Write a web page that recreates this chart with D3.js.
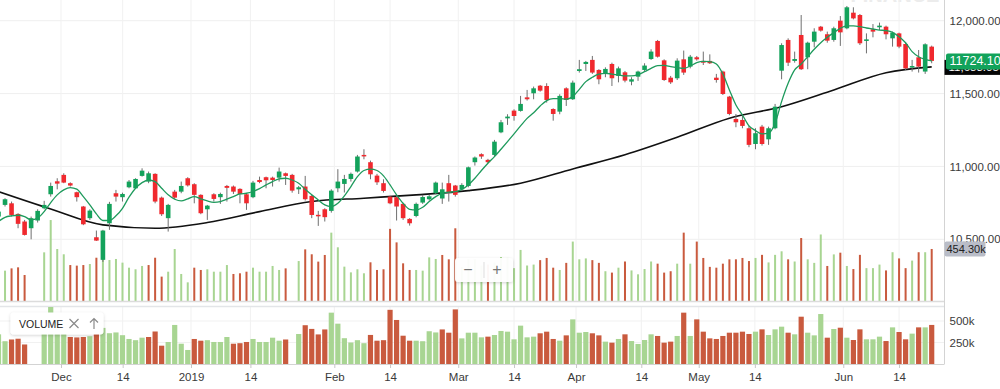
<!DOCTYPE html>
<html><head><meta charset="utf-8">
<script src="https://cdn.jsdelivr.net/npm/d3@7/dist/d3.min.js"></script>
<style>
html,body{margin:0;padding:0;background:#fff;}
svg{display:block;font-family:"Liberation Sans",Arial,Helvetica,sans-serif;}
</style></head>
<body><svg id="c" width="1000" height="389"></svg>
<script>
// ---- data ----
const open = [10656,10736,10747,10674,10622,10576,10629,10713,10809,10898,10942,10885,10823,10725,10645,10514,10359,10610,10816,10789,10857,10850,10935,10896,10949,10786,10645,10827,10827,10919,10878,10805,10706,10809,10789,10866,10862,10846,10809,10789,10907,10926,10923,10923,10953,10942,10843,10862,10798,10668,10706,10695,10850,10880,10914,10965,11079,11029,10937,10885,10793,10789,10743,10640,10660,10752,10775,10816,10780,10885,10869,10843,10866,11029,11084,11045,11079,11234,11330,11383,11381,11474,11502,11554,11552,11394,11376,11536,11461,11655,11703,11731,11662,11635,11703,11621,11646,11582,11616,11662,11737,11861,11728,11609,11605,11735,11685,11749,11724,11724,11609,11651,11479,11326,11319,11262,11154,11273,11186,11262,11657,11868,11724,11902,11749,11856,11959,11907,11868,12000,11948,12055,12039,11861,11941,11955,11959,11879,11913,11840,11678,11749,11651,11822];
const high = [10702,10782,10759,10679,10633,10656,10706,10764,10889,10919,10953,10891,10827,10729,10706,10560,10565,10757,10839,10820,10907,10919,10987,10965,10953,10793,10743,10839,10896,10926,10885,10809,10736,10816,10820,10873,10869,10850,10816,10901,10930,10930,10930,10992,10958,10949,10866,10935,10805,10695,10713,10843,10981,10942,10958,11079,11118,11040,10949,10912,10798,10798,10747,10645,10752,10805,10805,10896,10889,10942,10873,10885,10999,11068,11090,11052,11182,11319,11358,11392,11484,11525,11548,11559,11571,11399,11495,11543,11589,11731,11724,11758,11667,11680,11712,11685,11655,11612,11657,11708,11804,11868,11735,11621,11742,11795,11765,11758,11788,11769,11635,11657,11484,11360,11353,11278,11262,11285,11273,11429,11845,11879,11788,12039,11856,11948,11964,11925,11959,12032,12101,12092,12046,11913,11977,11987,11966,11925,11918,11849,11731,11799,11845,11829];
const low = [10645,10725,10656,10576,10526,10500,10615,10706,10793,10843,10885,10862,10759,10597,10633,10489,10345,10565,10759,10759,10850,10846,10930,10885,10747,10660,10553,10775,10816,10862,10747,10672,10633,10759,10743,10759,10811,10747,10702,10782,10885,10850,10862,10896,10873,10820,10811,10766,10645,10592,10622,10683,10823,10821,10896,10958,11049,10912,10873,10821,10741,10629,10633,10594,10651,10743,10766,10809,10743,10759,10793,10834,10857,11006,11052,11022,11068,11228,11285,11314,11376,11452,11461,11513,11438,11314,11358,11415,11456,11644,11655,11635,11564,11612,11552,11577,11577,11557,11587,11655,11731,11747,11587,11566,11593,11628,11673,11726,11696,11703,11575,11490,11351,11269,11262,11132,11118,11143,11148,11255,11598,11689,11712,11662,11667,11817,11925,11849,11856,11827,11941,12009,11833,11776,11886,11936,11872,11822,11811,11662,11651,11644,11635,11708];
const close = [10690,10775,10667,10606,10530,10645,10695,10736,10866,10882,10889,10869,10789,10603,10697,10491,10560,10743,10793,10811,10896,10914,10971,10953,10759,10672,10736,10786,10866,10870,10805,10679,10731,10777,10811,10853,10827,10811,10747,10889,10893,10905,10907,10965,10935,10834,10857,10775,10667,10658,10652,10834,10896,10914,10949,11068,11070,10946,10891,10832,10747,10725,10645,10610,10743,10790,10795,10889,10843,10820,10805,10873,10994,11061,11068,11029,11170,11303,11342,11346,11429,11461,11536,11520,11456,11360,11484,11456,11575,11667,11717,11644,11598,11669,11605,11673,11589,11598,11651,11692,11788,11753,11593,11577,11726,11644,11753,11735,11712,11708,11593,11497,11360,11303,11278,11148,11228,11154,11262,11410,11833,11712,11737,11667,11849,11925,11932,11863,11948,11920,12092,12016,11845,11872,11925,11966,11907,11918,11822,11673,11689,11685,11838,11724.10];
// volume in thousands (null = no bar)
const volume = [345,265,285,294,227,null,null,425,707,454,408,314,309,314,323,378,420,358,367,335,291,277,306,314,378,213,256,454,236,163,291,271,277,256,256,314,236,242,256,291,256,256,306,271,285,null,349,451,408,344,402,597,469,300,250,277,242,338,271,277,630,512,329,271,271,265,381,367,402,364,635,298,364,364,310,318,337,384,376,287,446,310,318,357,376,291,271,333,519,364,372,357,333,260,248,291,345,267,233,279,345,326,248,260,326,597,326,519,376,298,291,326,364,364,376,349,376,403,337,403,434,364,345,550,364,333,581,306,407,422,306,279,403,287,287,318,267,426,372,287,353,426,426,454.3];
// short moving average, read at every candle
const maShort = [10622,10651,10661,10665,10656,10633,10645,10690,10752,10805,10839,10855,10844,10793,10736,10674,10629,10629,10661,10713,10789,10850,10889,10907,10896,10850,10805,10775,10763,10777,10793,10777,10763,10754,10759,10775,10793,10811,10816,10828,10848,10873,10896,10914,10919,10907,10885,10843,10805,10770,10736,10725,10747,10798,10862,10930,10972,10981,10972,10935,10873,10805,10747,10706,10702,10720,10759,10793,10816,10823,10827,10843,10873,10919,10972,11022,11067,11118,11170,11223,11278,11330,11369,11415,11452,11465,11465,11461,11479,11529,11582,11612,11634,11639,11634,11628,11621,11621,11630,11650,11673,11692,11694,11685,11678,11673,11689,11712,11721,11719,11703,11634,11525,11422,11353,11278,11246,11223,11228,11296,11445,11570,11662,11703,11753,11804,11849,11886,11918,11948,11964,11964,11959,11950,11943,11936,11932,11920,11890,11849,11788,11753,11735,11724];
// long moving average, read every 8 candles
const maLongIdx = [0,8,16,24,32,40,48,56,64,72,80,88,96,104,112,120,128,136,143];
const maLong = [10827,10708,10599,10576,10615,10690,10759,10782,10805,10834,10885,10983,11080,11200,11331,11410,11525,11643,11683];
const priceTicks = [10500,11000,11500,12000];
const volTicks = [250,500];
const timeTickLabels = ["Dec","14","2019","14","Feb","14","Mar","14","Apr","14","May","14","Jun","14"];
const timeTickAt = [9.58,19.03,29.5,38.6,51.46,60.0,70.45,79.0,88.5,98.5,107.3,115.9,129.45,138.0];
const lastPriceLabel = "11724.10";
const maLabel = "11,683.05";
const volLabel = "454.30k";
const watermark = "FINANCE";

// ---- drawing ----
const W = 1000, H = 389, axisX = 944.5;
const mainTop = 0, mainBottom = 301, lowTop = 307, lowBottom = 364;
const N = close.length;
const svg = d3.select("#c");
const x = d3.scaleLinear().domain([0, N-1]).range([-1.5, 931.7]);
const y = d3.scaleLinear().domain([10500, 12000]).range([239.3, 20.7]);
const vMain = d3.scaleLinear().domain([0, 1000]).range([mainBottom, mainBottom - 114.5]);
const vLow = d3.scaleLinear().domain([0, 1000]).range([lowBottom, lowBottom - 86]);

const GREEN = "#13a25b", RED = "#f0292e", WICK = "#6f6f6f";
const VGREEN = "#a8d592", VRED = "#c95a3e";
const volColor = i => (i === 0 ? close[0] >= open[0] : close[i] >= close[i-1]) ? VGREEN : VRED;

const defs = svg.append("defs");
defs.append("clipPath").attr("id","clipMain").append("rect").attr("x",0).attr("y",mainTop).attr("width",axisX).attr("height",mainBottom-mainTop);
defs.append("clipPath").attr("id","clipLow").append("rect").attr("x",0).attr("y",lowTop).attr("width",axisX).attr("height",lowBottom-lowTop);
const sh = defs.append("filter").attr("id","shadow").attr("x","-20%").attr("y","-40%").attr("width","140%").attr("height","180%");
sh.append("feDropShadow").attr("dx",0).attr("dy",1).attr("stdDeviation",1.5).attr("flood-color","#000").attr("flood-opacity",0.18);

svg.append("rect").attr("width",W).attr("height",H).attr("fill","#fff");

// watermark (mostly cut off at the top, as in the reference)
svg.append("text").attr("x",895).attr("y",2).attr("text-anchor","middle")
  .attr("font-size",20).attr("font-weight","bold").attr("fill","#ececec").text(watermark);

// grid
const grid = svg.append("g");
grid.selectAll(".hg").data(priceTicks).join("line")
  .attr("x1",0).attr("x2",axisX).attr("y1",d=>y(d)).attr("y2",d=>y(d))
  .attr("stroke","#efefef").attr("stroke-width",1);
grid.selectAll(".vg").data(timeTickAt).join("line")
  .attr("x1",d=>x(d)).attr("x2",d=>x(d)).attr("y1",0).attr("y2",mainBottom)
  .attr("stroke","#f1f1f1").attr("stroke-width",1);
grid.selectAll(".vg2").data(timeTickAt).join("line")
  .attr("x1",d=>x(d)).attr("x2",d=>x(d)).attr("y1",lowTop).attr("y2",lowBottom)
  .attr("stroke","#f1f1f1").attr("stroke-width",1);
grid.selectAll(".lg").data(volTicks).join("line")
  .attr("x1",0).attr("x2",axisX).attr("y1",d=>vLow(d)).attr("y2",d=>vLow(d))
  .attr("stroke","#f1f1f1").attr("stroke-width",1);

const idx = d3.range(N);
// volume overlay in main pane
const gm = svg.append("g").attr("clip-path","url(#clipMain)");
gm.selectAll(".vb").data(idx.filter(i=>volume[i]!=null)).join("rect")
  .attr("x",i=>x(i)-1).attr("width",2)
  .attr("y",i=>vMain(volume[i])).attr("height",i=>vMain(0)-vMain(volume[i]))
  .attr("fill",volColor);

// moving averages
gm.append("path").datum(maLong.map((v,k)=>[maLongIdx[k],v]))
  .attr("d", d3.line().x(d=>x(d[0])).y(d=>y(d[1])).curve(d3.curveMonotoneX))
  .attr("fill","none").attr("stroke","#111").attr("stroke-width",1.6);

// candles
const cg = gm.selectAll(".cd").data(idx).join("g");
cg.append("line").attr("x1",i=>x(i)).attr("x2",i=>x(i))
  .attr("y1",i=>y(high[i])).attr("y2",i=>y(low[i]))
  .attr("stroke",WICK).attr("stroke-width",1);
cg.append("rect").attr("x",i=>x(i)-2.3).attr("width",4.6)
  .attr("y",i=>y(Math.max(open[i],close[i])))
  .attr("height",i=>Math.max(1.5, Math.abs(y(open[i])-y(close[i]))))
  .attr("fill",i=>close[i]>=open[i]?GREEN:RED);

gm.append("path").datum(maShort)
  .attr("d", d3.line().x((d,i)=>x(i)).y(d=>y(d)).curve(d3.curveMonotoneX))
  .attr("fill","none").attr("stroke","#1e9a5c").attr("stroke-width",1.3);

// pane separators
svg.append("line").attr("x1",0).attr("x2",axisX).attr("y1",mainBottom+0.5).attr("y2",mainBottom+0.5)
  .attr("stroke","#dcdcdc").attr("stroke-width",1.5);
svg.append("line").attr("x1",0).attr("x2",axisX).attr("y1",lowTop-0.5).attr("y2",lowTop-0.5)
  .attr("stroke","#e3e5e8").attr("stroke-width",1.5);

// lower volume pane
const gl = svg.append("g").attr("clip-path","url(#clipLow)");
gl.selectAll(".lb").data(idx.filter(i=>volume[i]!=null)).join("rect")
  .attr("x",i=>x(i)-2.6).attr("width",5.2)
  .attr("y",i=>vLow(volume[i])).attr("height",i=>vLow(0)-vLow(volume[i]))
  .attr("fill",volColor);

// right axes
svg.append("line").attr("x1",axisX).attr("x2",axisX).attr("y1",0).attr("y2",lowBottom)
  .attr("stroke","#d3d3d3").attr("stroke-width",1);
const pa = svg.append("g").attr("transform",`translate(${axisX},0)`)
  .call(d3.axisRight(y).tickValues(priceTicks).tickFormat(d3.format(",.2f")).tickSize(0).tickPadding(5));
pa.select(".domain").remove();
pa.selectAll("text").attr("font-size",11.5).attr("fill","#3a3a3a").attr("font-family","Liberation Sans, Arial, sans-serif");
const va = svg.append("g").attr("transform",`translate(${axisX},0)`)
  .call(d3.axisRight(vLow).tickValues(volTicks).tickFormat(d=>d+"k").tickSize(0).tickPadding(5));
va.select(".domain").remove();
va.selectAll("text").attr("font-size",11.5).attr("fill","#3a3a3a").attr("font-family","Liberation Sans, Arial, sans-serif");

// bottom time axis
svg.append("line").attr("x1",0).attr("x2",axisX).attr("y1",lowBottom+0.5).attr("y2",lowBottom+0.5)
  .attr("stroke","#d3d3d3").attr("stroke-width",1);
const ta = svg.append("g").attr("transform",`translate(0,${lowBottom})`)
  .call(d3.axisBottom(x).tickValues(timeTickAt).tickFormat((d,k)=>timeTickLabels[k]).tickSize(4).tickPadding(5));
ta.select(".domain").remove();
ta.selectAll("line").attr("stroke","#c8c8c8");
ta.selectAll("text").attr("font-size",11.5).attr("fill","#3a3a3a").attr("font-family","Liberation Sans, Arial, sans-serif");

// value labels on the right
const lastY = y(close[N-1]);
const maY = y(maLong[maLong.length-1]);
svg.append("rect").attr("x",axisX).attr("y",maY-7).attr("width",60).attr("height",15).attr("fill","#050505");
svg.append("text").attr("x",axisX+4).attr("y",maY+4.5).attr("font-size",11.5).attr("fill","#fff").text(maLabel);
svg.append("rect").attr("x",axisX+1.5).attr("y",lastY-7.5).attr("width",60).attr("height",16).attr("rx",2).attr("fill","#12a35b");
svg.append("text").attr("x",axisX+5).attr("y",lastY+4.5).attr("font-size",12.5).attr("fill","#fff").text(lastPriceLabel);

const lvY = vMain(volume[N-1]);
svg.append("rect").attr("x",axisX).attr("y",lvY-7.5).attr("width",41).attr("height",15).attr("rx",2).attr("fill","#b9bdc8");
svg.append("text").attr("x",axisX+2).attr("y",lvY+4).attr("font-size",11).attr("fill","#222").text(volLabel);

// zoom buttons
const zb = svg.append("g");
zb.append("rect").attr("x",455).attr("y",258).attr("width",58).attr("height",24).attr("rx",3)
  .attr("fill","#fff").attr("fill-opacity",0.95).attr("filter","url(#shadow)");
zb.append("text").attr("x",468).attr("y",275).attr("text-anchor","middle").attr("font-size",16).attr("fill","#777").text("\u2212");
zb.append("line").attr("x1",484).attr("x2",484).attr("y1",262).attr("y2",278).attr("stroke","#ddd");
zb.append("text").attr("x",497).attr("y",275).attr("text-anchor","middle").attr("font-size",16).attr("fill","#777").text("+");

// volume legend
const lg = svg.append("g");
lg.append("rect").attr("x",10.5).attr("y",312.5).attr("width",93).attr("height",22).attr("rx",3)
  .attr("fill","#fff").attr("filter","url(#shadow)");
lg.append("text").attr("x",19).attr("y",327.5).attr("font-size",10.5).attr("fill","#222").attr("font-weight","500").text("VOLUME");
lg.append("path").attr("d","M69.5,319 L78.5,328 M78.5,319 L69.5,328").attr("stroke","#8a8a8a").attr("stroke-width",1.2).attr("fill","none");
lg.append("path").attr("d","M94,318.5 L94,329 M90,322.5 L94,318.5 L98,322.5").attr("stroke","#8a8a8a").attr("stroke-width",1.2).attr("fill","none");
</script></body></html>
